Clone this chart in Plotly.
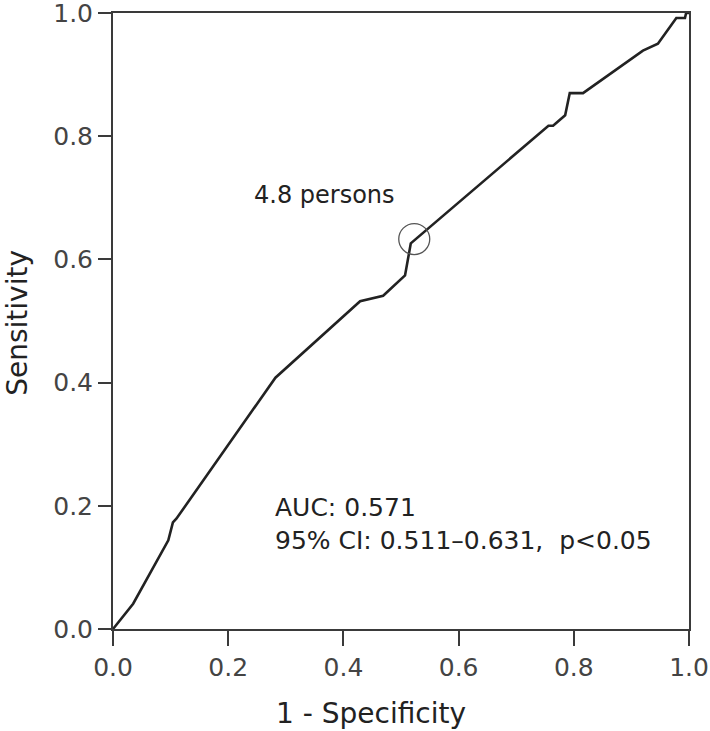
import plotly.graph_objects as go

# ROC curve points
fpr = [0.0, 0.035, 0.096, 0.104, 0.110, 0.282, 0.429, 0.469, 0.507, 0.514, 0.517,
       0.756, 0.764, 0.785, 0.793, 0.816, 0.920, 0.946, 0.978, 0.993, 0.995, 1.0]
tpr = [0.0, 0.041, 0.144, 0.173, 0.179, 0.408, 0.532, 0.541, 0.574, 0.609, 0.626,
       0.817, 0.817, 0.834, 0.870, 0.870, 0.939, 0.950, 0.992, 0.992, 1.0, 1.0]

cut_x = [0.523]
cut_y = [0.633]
cut_label = "4.8 persons"
auc_text = "AUC: 0.571<br>95% CI: 0.511\u20130.631,  p<0.05"
x_title = "1 - Specificity"
y_title = "Sensitivity"

tick_vals = [0.0, 0.2, 0.4, 0.6, 0.8, 1.0]
tick_text = ["0.0", "0.2", "0.4", "0.6", "0.8", "1.0"]

FONT = "DejaVu Sans"
AX = "#3a3a3a"

fig = go.Figure()
fig.add_trace(go.Scatter(x=fpr, y=tpr, mode="lines",
                         line=dict(color="#222222", width=2.6),
                         showlegend=False, hoverinfo="skip"))
fig.add_trace(go.Scatter(x=cut_x, y=cut_y, mode="markers",
                         marker=dict(symbol="circle-open", size=31,
                                     color="#555555", line=dict(width=1.3, color="#555555")),
                         showlegend=False, hoverinfo="skip"))

fig.add_annotation(x=0.241, y=0.704, xref="x", yref="y", text=cut_label,
                   showarrow=False, xanchor="left", yanchor="middle",
                   font=dict(family=FONT, size=24, color="#222222"))
fig.add_annotation(x=0.278, y=0.17, xref="x", yref="y", text=auc_text,
                   showarrow=False, xanchor="left", yanchor="middle", align="left",
                   font=dict(family=FONT, size=25, color="#222222"))
fig.add_annotation(x=0.448, y=-0.137, xref="paper", yref="paper", text=x_title,
                   showarrow=False, xanchor="center", yanchor="middle",
                   font=dict(family=FONT, size=28, color="#222222"))
fig.add_annotation(x=-0.165, y=0.497, xref="paper", yref="paper", text=y_title,
                   showarrow=False, xanchor="center", yanchor="middle", textangle=-90,
                   font=dict(family=FONT, size=28, color="#222222"))

axis_common = dict(
    range=[0, 1], tickvals=tick_vals, ticktext=tick_text, automargin=False,
    ticklabeloverflow="allow",
    showgrid=False, zeroline=False, showline=True, mirror=True,
    linecolor=AX, linewidth=2, ticks="outside", tickcolor=AX, tickwidth=2,
    tickfont=dict(family=FONT, size=25, color="#444444"),
)
fig.update_xaxes(**axis_common, ticklen=15)
fig.update_yaxes(**axis_common, ticklen=13)

fig.update_layout(width=710, height=731,
                  margin=dict(l=113, r=21, t=13, b=102),
                  plot_bgcolor="white", paper_bgcolor="white")

fig.write_html("out.html", config={"displayModeBar": False},
               post_script="document.body.style.margin='0';document.body.style.overflow='hidden';")
